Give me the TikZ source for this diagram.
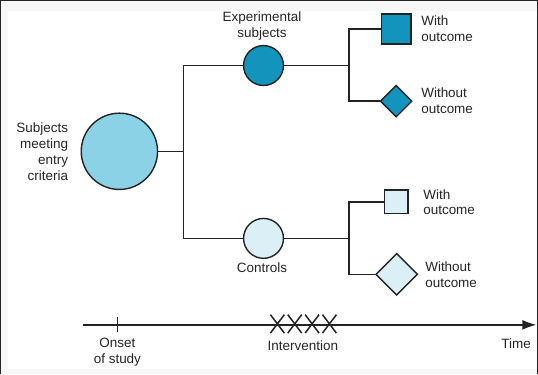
\documentclass[tikz,border=0pt]{standalone}
\usepackage{fontspec}
\setmainfont{Liberation Sans}
\usetikzlibrary{shapes.geometric,shapes.misc,arrows.meta}
\definecolor{bigc}{RGB}{140,210,230}
\definecolor{darkc}{RGB}{18,148,188}
\definecolor{lightc}{RGB}{218,239,246}
\definecolor{linec}{RGB}{35,35,35}
\begin{document}
\begin{tikzpicture}[x=1pt,y=-1pt,
  every path/.style={line width=1.4pt,draw=linec},
  blob/.style={circle,draw=linec,line width=1.4pt,inner sep=0pt},
  boxnode/.style={rectangle,draw=linec,line width=1.4pt,inner sep=0pt},
  dnode/.style={diamond,aspect=1,draw=linec,line width=1.4pt,inner sep=0pt},
  lbl/.style={inner sep=0pt,font=\fontsize{13.5}{16}\selectfont,text=black!85},
  xmark/.style={cross out,draw=linec,line width=1.5pt,minimum width=12.5pt,minimum height=17pt,inner sep=0pt}]
\useasboundingbox (0,0) rectangle (538,374);
\fill[gray!6,draw=none] (0,0) rectangle (538,374);
\fill[white,draw=none] (7,10) rectangle (538,369);
% nodes
\node[blob,fill=bigc,minimum size=76.5pt] (big) at (119,151) {};
\node[blob,fill=darkc,minimum size=40pt] (exp) at (263.5,65) {};
\node[blob,fill=lightc,minimum size=40pt] (ctl) at (263.5,238.3) {};
\node[boxnode,fill=darkc,minimum size=30pt] (sq1) at (396.5,28.3) {};
\node[dnode,fill=darkc,minimum size=32pt] (dm1) at (396.5,100.7) {};
\node[boxnode,fill=lightc,minimum size=23.5pt] (sq2) at (396.5,201.7) {};
\node[dnode,fill=lightc,minimum size=42pt] (dm2) at (397,274.3) {};
% junctions
\coordinate (j1) at (183,151);
\coordinate (j2) at (349.3,65);
\coordinate (j3) at (349.3,238.3);
\draw (big) -- (j1);
\draw (exp.west) -| (j1) |- (ctl.west);
\draw (exp) -- (j2);
\draw (sq1.west) -| (j2) |- (dm1.west);
\draw (ctl) -- (j3);
\draw (sq2.west) -| (j3) |- (dm2.west);
% labels
\node[lbl,anchor=east,align=right] (lbig) at (68.3,151) {Subjects\\meeting\\entry\\criteria};
\node[lbl,align=center] (lexp) at (262,25.5) {Experimental\\subjects};
\node[lbl] (lctl) at (262,268) {Controls};
\node[lbl,anchor=west,align=left] (l1) at (421,28) {With\\outcome};
\node[lbl,anchor=west,align=left] (l2) at (421,100) {Without\\outcome};
\node[lbl,anchor=west,align=left] (l3) at (423,202) {With\\outcome};
\node[lbl,anchor=west,align=left] (l4) at (425,274.7) {Without\\outcome};
% timeline
\coordinate (t0) at (82.7,325);
\coordinate (t1) at (537,325);
\draw[-{Latex[length=14pt,width=10pt]}] (t0) -- (t1);
\coordinate (tick) at (117.3,325);
\draw (tick) ++(0,-7.5) -- ++(0,15);
\node[xmark] (x1) at (277.4,324) {};
\node[xmark] (x2) at (294.8,324) {};
\node[xmark] (x3) at (312.2,324) {};
\node[xmark] (x4) at (329.6,324) {};
\node[lbl,align=center] (lon) at (117,352) {Onset\\of study};
\node[lbl] (lint) at (303,345.7) {Intervention};
\node[lbl] (ltime) at (516.7,344) {Time};
\end{tikzpicture}
\end{document}
